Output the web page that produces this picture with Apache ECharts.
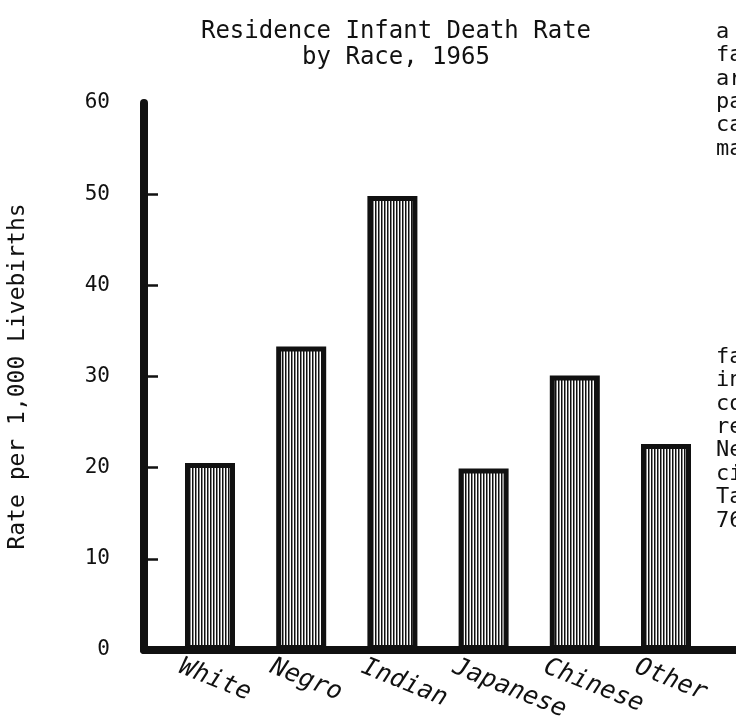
<!DOCTYPE html>
<html><head><meta charset="utf-8">
<script src="https://cdn.jsdelivr.net/npm/echarts@6/dist/echarts.min.js"></script>
<style>html,body{margin:0;padding:0;background:#fff}#c{width:736px;height:725px}</style>
</head><body><div id="c"></div>
<script>
const categories = ['White', 'Negro', 'Indian', 'Japanese', 'Chinese', 'Other'];
const rates = [20.5, 33.3, 49.8, 19.9, 30.1, 22.6];
const yTickValues = [10, 20, 30, 40, 50];
const titleText = 'Residence Infant Death Rate\nby Race, 1965';
const yAxisName = 'Rate per 1,000 Livebirths';
const sideTextTop = ['a', 'fa', 'ar', 'pa', 'ca', 'ma'];
const sideTextBottom = ['fa', 'in', 'co', 're', 'Ne', 'ci', 'Ta', '76'];

const FONT = '"DejaVu Sans Mono", monospace';
const INK = '#111';

// vertical hatch pattern for bars
const pc = document.createElement('canvas');
pc.width = 3; pc.height = 3;
const pctx = pc.getContext('2d');
pctx.fillStyle = '#fff'; pctx.fillRect(0, 0, 3, 3);
pctx.fillStyle = '#111'; pctx.fillRect(0, 0, 1, 3);
pctx.fillStyle = '#888'; pctx.fillRect(1, 0, 1, 3);

const graphics = [];
sideTextTop.forEach((t, i) => graphics.push({
  type: 'text', left: 716, top: 21 + i * 23.4,
  style: { text: t, font: '22px ' + FONT, fill: INK }
}));
sideTextBottom.forEach((t, i) => graphics.push({
  type: 'text', left: 716, top: 346 + i * 23.4,
  style: { text: t, font: '22px ' + FONT, fill: INK }
}));

const chart = echarts.init(document.getElementById('c'));
chart.setOption({
  backgroundColor: '#fff',
  animation: false,
  title: {
    text: titleText, left: 391, top: 14, textAlign: 'center',
    textStyle: { fontFamily: FONT, fontSize: 24, fontWeight: 'normal', color: INK, lineHeight: 26 }
  },
  graphic: graphics,
  grid: [
    { left: 144, right: 0, top: 103, bottom: 75, outerBoundsMode: 'none', containLabel: false },
    { left: 164.4, right: 24.4, top: 103, bottom: 75, outerBoundsMode: 'none', containLabel: false },
    { left: 134.4, right: 54.4, top: 103, bottom: 75, outerBoundsMode: 'none', containLabel: false }
  ],
  xAxis: [
    { gridIndex: 0, type: 'value', min: 0, max: 1, offset: 3,
      axisLine: { show: true, lineStyle: { color: INK, width: 8 } },
      axisTick: { show: false }, axisLabel: { show: false }, splitLine: { show: false } },
    { gridIndex: 1, type: 'category', data: categories,
      axisLine: { show: false }, axisTick: { show: false }, axisLabel: { show: false } },
    { gridIndex: 2, type: 'category', data: categories,
      axisLine: { show: false }, axisTick: { show: false },
      axisLabel: { rotate: -22, margin: 16, fontFamily: FONT, fontSize: 25, fontStyle: 'italic', color: INK } }
  ],
  yAxis: [
    { gridIndex: 0, type: 'value', min: 0, max: 60, interval: 10,
      name: yAxisName, nameLocation: 'middle', nameGap: 114, nameRotate: 90,
      nameTextStyle: { fontFamily: FONT, fontSize: 23, color: INK },
      axisLine: { show: true, lineStyle: { color: INK, width: 8 } },
      axisTick: { show: true, inside: true, length: 14, customValues: yTickValues, lineStyle: { color: INK, width: 2.5 } },
      axisLabel: { margin: 34, fontFamily: FONT, fontSize: 21, color: INK },
      splitLine: { show: false } },
    { gridIndex: 1, type: 'value', min: 0, max: 60, interval: 10, show: false },
    { gridIndex: 2, type: 'value', min: 0, max: 60, interval: 10, show: false }
  ],
  series: [{
    type: 'bar', xAxisIndex: 1, yAxisIndex: 1, data: rates, barWidth: 50,
    itemStyle: { color: { image: pc, repeat: 'repeat' }, borderColor: INK, borderWidth: 5 },
    z: 1
  }]
});
</script></body></html>
